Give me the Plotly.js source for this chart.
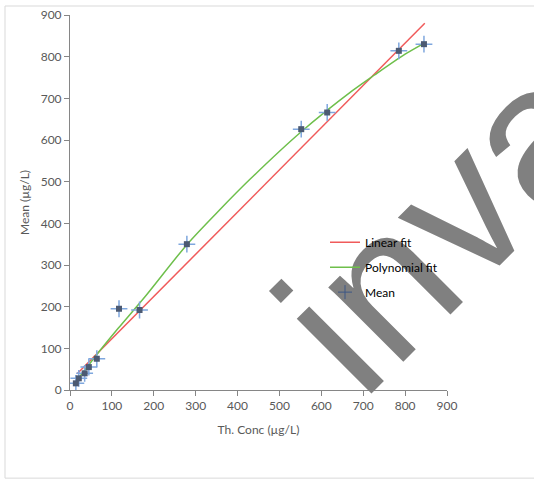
<!DOCTYPE html>
<html>
<head>
<meta charset="utf-8">
<script src="https://cdn.plot.ly/plotly-3.0.1.min.js"></script>
<style>html,body{margin:0;padding:0;background:#fff;}#chart{width:534px;height:481px;}</style>
</head>
<body>
<div id="chart"></div>
<script>
// Mean values
const meanX = [14, 21, 35, 45, 64, 117, 166, 279, 552, 614, 785, 845];
const meanY = [16, 28, 40, 55, 75, 195, 192, 350, 626, 666, 814, 830];
// Linear fit (endpoints)
const linX = [17, 847];
const linY = [39, 880];
// Polynomial fit
const polyX = [14, 60, 115, 180, 280, 357, 429, 550, 675, 727, 800, 845];
const polyY = [20, 80, 148, 225, 350, 432, 505, 618, 719, 756, 806, 832];
const xTicks = [0, 100, 200, 300, 400, 500, 600, 700, 800, 900];
const yTicks = [0, 100, 200, 300, 400, 500, 600, 700, 800, 900];

const font = {family: 'Lato, "Open Sans", sans-serif', size: 12, color: '#595959'};

const traces = [
  {x: linX, y: linY, mode: 'lines', name: 'Linear fit', legendgroup: 'a',
   line: {color: '#f05a5a', width: 1.5}},
  {x: polyX, y: polyY, mode: 'lines', name: 'Polynomial fit', legendgroup: 'b',
   line: {color: '#6ebf4b', width: 1.5, shape: 'spline', smoothing: 0.8}},
  {x: meanX, y: meanY, mode: 'markers', showlegend: false, hoverinfo: 'skip',
   marker: {symbol: 'cross-thin', size: 12, line: {color: '#7fa7de', width: 1.5}}},
  {x: meanX, y: meanY, mode: 'markers', showlegend: false,
   marker: {symbol: 'square', size: 6, color: '#4c5a72'}},
  {x: [null], y: [null], mode: 'markers', name: 'Mean', legendgroup: 'c',
   marker: {symbol: 'cross-thin', size: 10, line: {color: '#3d5685', width: 1}}}
];

const layout = {
  width: 534, height: 481,
  margin: {l: 70, r: 87, t: 15, b: 91},
  paper_bgcolor: '#fff', plot_bgcolor: '#fff',
  font: font,
  showlegend: true,
  legend: {x: 0.6764, y: 0.433, xanchor: 'left', yanchor: 'top', bgcolor: 'rgba(0,0,0,0)',
    font: {family: font.family, size: 12, color: '#000'}, traceorder: 'grouped', tracegroupgap: 6,
    itemwidth: 30},
  xaxis: {range: [0, 900], tickvals: xTicks, ticktext: xTicks.map(String), showgrid: false, zeroline: false,
    showline: true, linecolor: '#868686', linewidth: 1, ticks: 'outside', ticklen: 5, tickcolor: '#868686',
    title: {text: 'Th. Conc (µg/L)', font: font, standoff: 13}, tickfont: font},
  yaxis: {range: [0, 900], tickvals: yTicks, ticktext: yTicks.map(String), showgrid: false, zeroline: false,
    showline: true, linecolor: '#868686', linewidth: 1, ticks: 'outside', ticklen: 5, tickcolor: '#868686',
    title: {text: 'Mean (µg/L)', font: font, standoff: 8}, tickfont: font},
  shapes: [{type: 'rect', xref: 'paper', yref: 'paper', x0: -0.1724, x1: 1.25, y0: -0.235, y1: 1.024,
    line: {color: '#d9d9d9', width: 1}, fillcolor: 'rgba(0,0,0,0)', layer: 'below'}],
  annotations: [{text: 'inva', xref: 'paper', yref: 'paper', x: 0.99, y: 0.4435, xanchor: 'center', yanchor: 'middle',
    showarrow: false, textangle: -45, font: {family: '"Liberation Sans", Arial, sans-serif', size: 200, color: '#808080'}}]
};

Plotly.newPlot('chart', traces, layout, {displayModeBar: false, staticPlot: true}).then(function () {
  const leg = document.querySelector('g.legend');
  if (leg && leg.parentNode) leg.parentNode.appendChild(leg);
});
</script>
</body>
</html>
